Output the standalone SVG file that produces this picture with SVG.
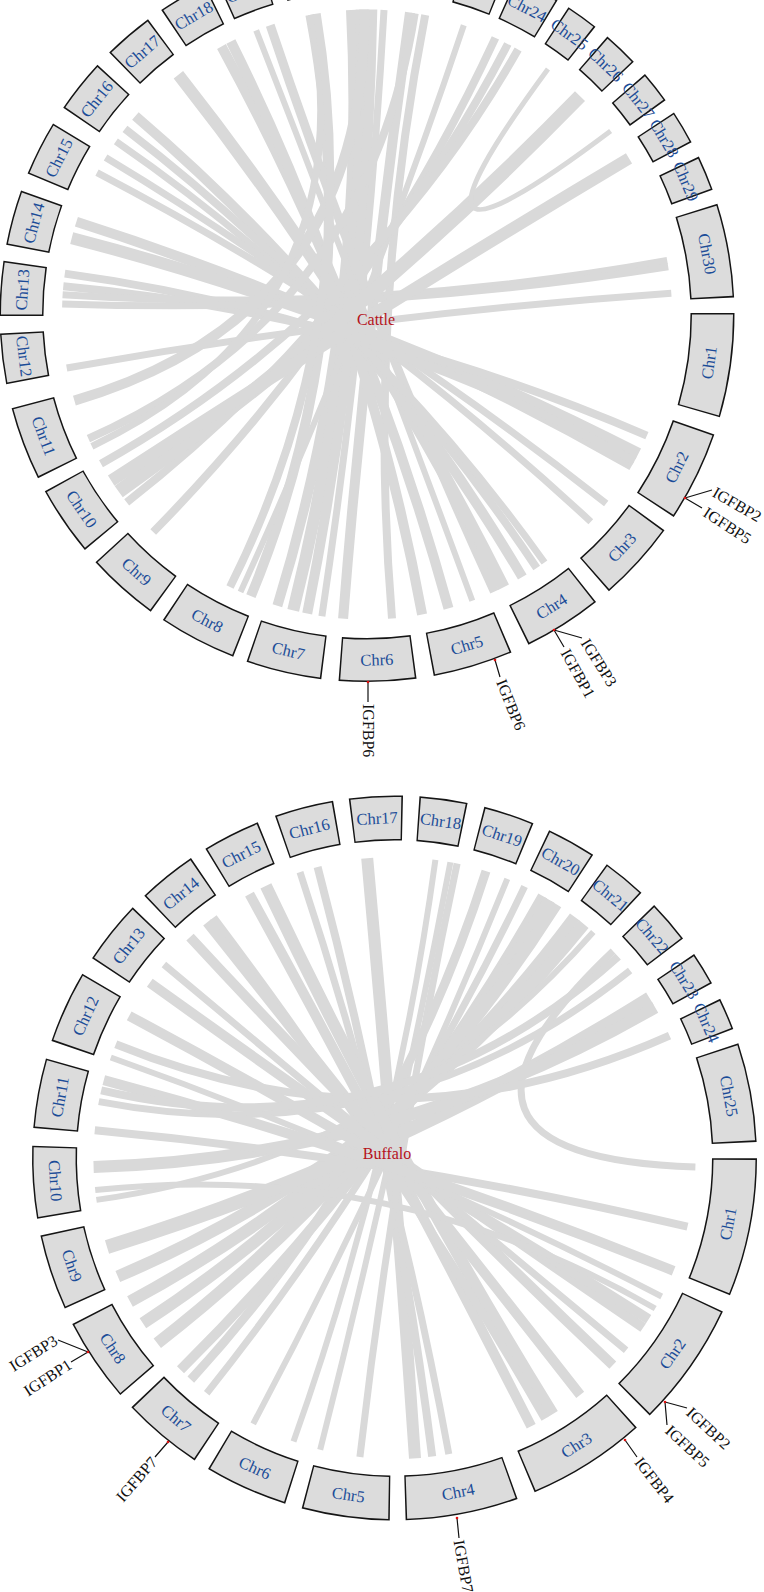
<svg xmlns="http://www.w3.org/2000/svg" width="764" height="1592" viewBox="0 0 764 1592">
<style>
.lk{fill:none;stroke:#d9d9d9;stroke-linecap:butt}
.bo{fill:none;stroke:#151515}
.bf{fill:none;stroke:#dcdcdc}
.cl{font-family:"Liberation Serif",serif;font-size:16.5px;fill:#1b4c98;text-anchor:middle;dominant-baseline:central}
.gl{font-family:"Liberation Serif",serif;font-size:16px;fill:#111;dominant-baseline:central}
.ge{text-anchor:end}
.ttl{font-family:"Liberation Serif",serif;font-size:16px;fill:#b5121b;text-anchor:middle;dominant-baseline:central}
.mk{stroke:#111;stroke-width:1.2;fill:none}
.dt{fill:#e01010}
.T .bo{stroke-width:44}
.T .bf{stroke-width:41}
.B .bo{stroke-width:45}
.B .bf{stroke-width:42}
</style>
<defs>
<path id="rT" d="M345.5,0A345.5,345.5 0 1 1 -345.5,0A345.5,345.5 0 1 1 345.5,0"/>
<path id="rB" d="M340,0A340,340 0 1 1 -340,0A340,340 0 1 1 340,0"/>
</defs>
<rect width="764" height="1592" fill="#fff"/>

<g id="cattle" class="T">
<g id="cattle-links">
<path class="lk" stroke-width="10" d="M310.4,14.9Q367,314.5 250.9,596.2"/>
<path class="lk" stroke-width="10" d="M351.0,9.9Q367,314.5 277.4,605.7"/>
<path class="lk" stroke-width="12" d="M361.7,9.5Q367,314.5 293.2,610.4"/>
<path class="lk" stroke-width="10" d="M372.3,9.5Q367,314.5 307.2,613.6"/>
<path class="lk" stroke-width="7" d="M384.0,10.0Q367,314.5 321.9,616.2"/>
<path class="lk" stroke-width="10" d="M410.0,12.5Q367,314.5 343.1,618.6"/>
<path class="lk" stroke-width="8" d="M425.2,15.1Q367,314.5 392.0,618.5"/>
<path class="lk" stroke-width="6" d="M463.8,25.3Q367,314.5 240.5,592.0"/>
<path class="lk" stroke-width="8" d="M495.4,37.9Q367,314.5 153.2,532.0"/>
<path class="lk" stroke-width="8" d="M507.8,44.0Q367,314.5 126.7,502.3"/>
<path class="lk" stroke-width="8" d="M518.1,49.6Q367,314.5 101.0,463.8"/>
<path class="lk" stroke-width="10" d="M221.5,46.5Q367,314.5 448.5,608.4"/>
<path class="lk" stroke-width="10" d="M230.9,41.5Q367,314.5 422.1,614.5"/>
<path class="lk" stroke-width="6" d="M256.2,30.3Q367,314.5 472.3,600.7"/>
<path class="lk" stroke-width="9" d="M270.2,25.3Q367,314.5 494.4,591.6"/>
<path class="lk" stroke-width="12" d="M178.4,74.8Q367,314.5 503.6,587.2"/>
<path class="lk" stroke-width="10" d="M135.4,116.0Q367,314.5 522.3,577.0"/>
<path class="lk" stroke-width="8" d="M125.0,128.8Q367,314.5 536.7,568.0"/>
<path class="lk" stroke-width="7" d="M115.9,141.3Q367,314.5 544.5,562.5"/>
<path class="lk" stroke-width="7" d="M105.6,157.4Q367,314.5 590.8,521.7"/>
<path class="lk" stroke-width="7" d="M97.0,172.7Q367,314.5 606.2,503.5"/>
<path class="lk" stroke-width="10" d="M76.4,221.8Q367,314.5 631.9,465.6"/>
<path class="lk" stroke-width="12" d="M71.7,238.1Q367,314.5 638.3,453.9"/>
<path class="lk" stroke-width="8" d="M64.8,273.6Q367,314.5 634.5,461.0"/>
<path class="lk" stroke-width="8" d="M63.3,286.3Q367,314.5 646.9,435.6"/>
<path class="lk" stroke-width="7" d="M62.6,294.8Q367,314.5 667.2,260.5"/>
<path class="lk" stroke-width="7" d="M62.2,303.9Q367,314.5 668.2,266.8"/>
<path class="lk" stroke-width="7" d="M66.7,368.0Q367,314.5 671.3,293.2"/>
<path class="lk" stroke-width="14" d="M580.0,96.2Q367,314.5 118.7,491.6"/>
<path class="lk" stroke-width="12" d="M629.0,158.3Q367,314.5 111.2,480.6"/>
<path class="lk" stroke-width="5" d="M548.0,69.0Q367,314.5 610.6,131.0"/>
<path class="lk" stroke-width="10" d="M74.4,400.6Q367,314.5 364.3,9.5"/>
<path class="lk" stroke-width="8" d="M88.4,438.6Q367,314.5 414.7,13.3"/>
<path class="lk" stroke-width="7" d="M91.9,446.3Q367,314.5 311.4,14.6"/>
<path class="lk" stroke-width="8" d="M230.0,587.0Q367,314.5 316.7,13.7"/>
</g>

<g id="cattle-chr1" transform="translate(367 314.5) rotate(0)"><use href="#rT" class="bo" stroke-dasharray="99.5 3000" transform="rotate(-0.25)"/><use href="#rT" class="bf" stroke-dasharray="96.5 3000"/><text class="cl" transform="rotate(8) translate(345.5 0) rotate(-90)">Chr1</text></g>
<g id="cattle-chr2" transform="translate(367 314.5) rotate(19.3)"><use href="#rT" class="bo" stroke-dasharray="86.8 3000" transform="rotate(-0.25)"/><use href="#rT" class="bf" stroke-dasharray="83.8 3000"/><text class="cl" transform="rotate(6.95) translate(345.5 0) rotate(-90)">Chr2</text></g>
<g id="cattle-chr3" transform="translate(367 314.5) rotate(36.2)"><use href="#rT" class="bo" stroke-dasharray="77.8 3000" transform="rotate(-0.25)"/><use href="#rT" class="bf" stroke-dasharray="74.8 3000"/><text class="cl" transform="rotate(6.2) translate(345.5 0) rotate(-90)">Chr3</text></g>
<g id="cattle-chr4" transform="translate(367 314.5) rotate(51.7)"><use href="#rT" class="bo" stroke-dasharray="75.4 3000" transform="rotate(-0.25)"/><use href="#rT" class="bf" stroke-dasharray="72.4 3000"/><text class="cl" transform="rotate(6) translate(345.5 0) rotate(-90)">Chr4</text></g>
<g id="cattle-chr5" transform="translate(367 314.5) rotate(67.1)"><use href="#rT" class="bo" stroke-dasharray="76.6 3000" transform="rotate(-0.25)"/><use href="#rT" class="bf" stroke-dasharray="73.6 3000"/><text class="cl" transform="rotate(6.1) translate(345.5 0) rotate(-90)">Chr5</text></g>
<g id="cattle-chr6" transform="translate(367 314.5) rotate(82.5)"><use href="#rT" class="bo" stroke-dasharray="73.6 3000" transform="rotate(-0.25)"/><use href="#rT" class="bf" stroke-dasharray="70.6 3000"/><text class="cl" transform="rotate(5.85) translate(345.5 0) rotate(-90)">Chr6</text></g>
<g id="cattle-chr7" transform="translate(367 314.5) rotate(97.4)"><use href="#rT" class="bo" stroke-dasharray="72.3 3000" transform="rotate(-0.25)"/><use href="#rT" class="bf" stroke-dasharray="69.3 3000"/><text class="cl" transform="rotate(5.75) translate(345.5 0) rotate(-90)">Chr7</text></g>
<g id="cattle-chr8" transform="translate(367 314.5) rotate(111.6)"><use href="#rT" class="bo" stroke-dasharray="74.8 3000" transform="rotate(-0.25)"/><use href="#rT" class="bf" stroke-dasharray="71.8 3000"/><text class="cl" transform="rotate(5.95) translate(345.5 0) rotate(-90)">Chr8</text></g>
<g id="cattle-chr9" transform="translate(367 314.5) rotate(126.3)"><use href="#rT" class="bo" stroke-dasharray="69.9 3000" transform="rotate(-0.25)"/><use href="#rT" class="bf" stroke-dasharray="66.9 3000"/><text class="cl" transform="rotate(5.55) translate(345.5 0) rotate(-90)">Chr9</text></g>
<g id="cattle-chr10" transform="translate(367 314.5) rotate(140.4)"><use href="#rT" class="bo" stroke-dasharray="66.9 3000" transform="rotate(-0.25)"/><use href="#rT" class="bf" stroke-dasharray="63.9 3000"/><text class="cl" transform="rotate(5.3) translate(345.5 0) rotate(-90)">Chr10</text></g>
<g id="cattle-chr11" transform="translate(367 314.5) rotate(153.8)"><use href="#rT" class="bo" stroke-dasharray="70.5 3000" transform="rotate(-0.25)"/><use href="#rT" class="bf" stroke-dasharray="67.5 3000"/><text class="cl" transform="rotate(5.6) translate(345.5 0) rotate(-90)">Chr11</text></g>
<g id="cattle-chr12" transform="translate(367 314.5) rotate(169.3)"><use href="#rT" class="bo" stroke-dasharray="48.2 3000" transform="rotate(-0.25)"/><use href="#rT" class="bf" stroke-dasharray="45.2 3000"/><text class="cl" transform="rotate(3.75) translate(345.5 0) rotate(-90)">Chr12</text></g>
<g id="cattle-chr13" transform="translate(367 314.5) rotate(180)"><use href="#rT" class="bo" stroke-dasharray="52.4 3000" transform="rotate(-0.25)"/><use href="#rT" class="bf" stroke-dasharray="49.4 3000"/><text class="cl" transform="rotate(4.1) translate(345.5 0) rotate(90)">Chr13</text></g>
<g id="cattle-chr14" transform="translate(367 314.5) rotate(191.2)"><use href="#rT" class="bo" stroke-dasharray="53 3000" transform="rotate(-0.25)"/><use href="#rT" class="bf" stroke-dasharray="50 3000"/><text class="cl" transform="rotate(4.15) translate(345.5 0) rotate(90)">Chr14</text></g>
<g id="cattle-chr15" transform="translate(367 314.5) rotate(202.8)"><use href="#rT" class="bo" stroke-dasharray="53 3000" transform="rotate(-0.25)"/><use href="#rT" class="bf" stroke-dasharray="50 3000"/><text class="cl" transform="rotate(4.15) translate(345.5 0) rotate(90)">Chr15</text></g>
<g id="cattle-chr16" transform="translate(367 314.5) rotate(214.5)"><use href="#rT" class="bo" stroke-dasharray="51.8 3000" transform="rotate(-0.25)"/><use href="#rT" class="bf" stroke-dasharray="48.8 3000"/><text class="cl" transform="rotate(4.05) translate(345.5 0) rotate(90)">Chr16</text></g>
<g id="cattle-chr17" transform="translate(367 314.5) rotate(225.7)"><use href="#rT" class="bo" stroke-dasharray="48.2 3000" transform="rotate(-0.25)"/><use href="#rT" class="bf" stroke-dasharray="45.2 3000"/><text class="cl" transform="rotate(3.75) translate(345.5 0) rotate(90)">Chr17</text></g>
<g id="cattle-chr18" transform="translate(367 314.5) rotate(236.2)"><use href="#rT" class="bo" stroke-dasharray="47.6 3000" transform="rotate(-0.25)"/><use href="#rT" class="bf" stroke-dasharray="44.6 3000"/><text class="cl" transform="rotate(3.7) translate(345.5 0) rotate(90)">Chr18</text></g>
<g id="cattle-chr19" transform="translate(367 314.5) rotate(246)"><use href="#rT" class="bo" stroke-dasharray="45.2 3000" transform="rotate(-0.25)"/><use href="#rT" class="bf" stroke-dasharray="42.2 3000"/><text class="cl" transform="rotate(3.5) translate(345.5 0) rotate(90)">Chr19</text></g>
<g id="cattle-chr20" transform="translate(367 314.5) rotate(256)"><use href="#rT" class="bo" stroke-dasharray="48.2 3000" transform="rotate(-0.25)"/><use href="#rT" class="bf" stroke-dasharray="45.2 3000"/><text class="cl" transform="rotate(3.75) translate(345.5 0) rotate(90)">Chr20</text></g>
<g id="cattle-chr21" transform="translate(367 314.5) rotate(266)"><use href="#rT" class="bo" stroke-dasharray="45.2 3000" transform="rotate(-0.25)"/><use href="#rT" class="bf" stroke-dasharray="42.2 3000"/><text class="cl" transform="rotate(3.5) translate(345.5 0) rotate(90)">Chr21</text></g>
<g id="cattle-chr22" transform="translate(367 314.5) rotate(276)"><use href="#rT" class="bo" stroke-dasharray="45.2 3000" transform="rotate(-0.25)"/><use href="#rT" class="bf" stroke-dasharray="42.2 3000"/><text class="cl" transform="rotate(3.5) translate(345.5 0) rotate(90)">Chr22</text></g>
<g id="cattle-chr23" transform="translate(367 314.5) rotate(285.5)"><use href="#rT" class="bo" stroke-dasharray="42.2 3000" transform="rotate(-0.25)"/><use href="#rT" class="bf" stroke-dasharray="39.2 3000"/><text class="cl" transform="rotate(3.25) translate(345.5 0) rotate(90)">Chr23</text></g>
<g id="cattle-chr24" transform="translate(367 314.5) rotate(294.2)"><use href="#rT" class="bo" stroke-dasharray="44 3000" transform="rotate(-0.25)"/><use href="#rT" class="bf" stroke-dasharray="41 3000"/><text class="cl" transform="rotate(3.4) translate(345.5 0) rotate(90)">Chr24</text></g>
<g id="cattle-chr25" transform="translate(367 314.5) rotate(303.5)"><use href="#rT" class="bo" stroke-dasharray="31.3 3000" transform="rotate(-0.25)"/><use href="#rT" class="bf" stroke-dasharray="28.3 3000"/><text class="cl" transform="rotate(2.35) translate(345.5 0) rotate(90)">Chr25</text></g>
<g id="cattle-chr26" transform="translate(367 314.5) rotate(311.1)"><use href="#rT" class="bo" stroke-dasharray="34.4 3000" transform="rotate(-0.25)"/><use href="#rT" class="bf" stroke-dasharray="31.4 3000"/><text class="cl" transform="rotate(2.6) translate(345.5 0) rotate(90)">Chr26</text></g>
<g id="cattle-chr27" transform="translate(367 314.5) rotate(319.4)"><use href="#rT" class="bo" stroke-dasharray="31.3 3000" transform="rotate(-0.25)"/><use href="#rT" class="bf" stroke-dasharray="28.3 3000"/><text class="cl" transform="rotate(2.35) translate(345.5 0) rotate(90)">Chr27</text></g>
<g id="cattle-chr28" transform="translate(367 314.5) rotate(326.9)"><use href="#rT" class="bo" stroke-dasharray="32.5 3000" transform="rotate(-0.25)"/><use href="#rT" class="bf" stroke-dasharray="29.5 3000"/><text class="cl" transform="rotate(2.45) translate(345.5 0) rotate(90)">Chr28</text></g>
<g id="cattle-chr29" transform="translate(367 314.5) rotate(334.8)"><use href="#rT" class="bo" stroke-dasharray="33.8 3000" transform="rotate(-0.25)"/><use href="#rT" class="bf" stroke-dasharray="30.8 3000"/><text class="cl" transform="rotate(2.55) translate(345.5 0) rotate(90)">Chr29</text></g>
<g id="cattle-chr30" transform="translate(367 314.5) rotate(342.7)"><use href="#rT" class="bo" stroke-dasharray="89.8 3000" transform="rotate(-0.25)"/><use href="#rT" class="bf" stroke-dasharray="86.8 3000"/><text class="cl" transform="rotate(7.2) translate(345.5 0) rotate(90)">Chr30</text></g>

<text id="cattle-title" class="ttl" x="376" y="319">Cattle</text>

<g id="cattle-genes">
<path class="mk" d="M685,498L712,490M685,498L702,508M554,630L582,638M554,630L564,647M495,660L500,677M368,682L368,702"/>
<circle class="dt" cx="685" cy="498" r="1.3"/><circle class="dt" cx="554" cy="630" r="1.3"/><circle class="dt" cx="495" cy="660" r="1.3"/><circle class="dt" cx="368" cy="682" r="1.3"/>
<text class="gl" transform="translate(714 491) rotate(30)">IGFBP2</text>
<text class="gl" transform="translate(705 511) rotate(33)">IGFBP5</text>
<text class="gl" transform="translate(585 640) rotate(58)">IGFBP3</text>
<text class="gl" transform="translate(565 650) rotate(61)">IGFBP1</text>
<text class="gl" transform="translate(501 680) rotate(68)">IGFBP6</text>
<text class="gl" transform="translate(368 704) rotate(90)">IGFBP6</text>
</g>
</g>

<g id="buffalo" class="B">
<g id="buffalo-links">
<path class="lk" stroke-width="12" d="M367.2,858.2Q394.5,1158 415.0,1458.3"/>
<path class="lk" stroke-width="8" d="M317.6,867.0Q394.5,1158 432.2,1456.6"/>
<path class="lk" stroke-width="7" d="M300.0,872.2Q394.5,1158 448.8,1454.1"/>
<path class="lk" stroke-width="6" d="M435.4,859.8Q394.5,1158 293.5,1441.6"/>
<path class="lk" stroke-width="6" d="M450.4,862.2Q394.5,1158 320.2,1449.7"/>
<path class="lk" stroke-width="7" d="M457.1,863.6Q394.5,1158 359.9,1457.0"/>
<path class="lk" stroke-width="9" d="M486.0,871.2Q394.5,1158 190.8,1379.6"/>
<path class="lk" stroke-width="6" d="M507.3,878.9Q394.5,1158 253.2,1423.8"/>
<path class="lk" stroke-width="7" d="M524.6,886.6Q394.5,1158 206.7,1393.2"/>
<path class="lk" stroke-width="10" d="M542.7,896.0Q394.5,1158 180.5,1369.7"/>
<path class="lk" stroke-width="12" d="M549.5,900.0Q394.5,1158 157.3,1343.3"/>
<path class="lk" stroke-width="12" d="M556.2,904.1Q394.5,1158 142.9,1323.3"/>
<path class="lk" stroke-width="12" d="M574.8,917.0Q394.5,1158 130.0,1301.6"/>
<path class="lk" stroke-width="12" d="M583.9,924.1Q394.5,1158 117.8,1276.6"/>
<path class="lk" stroke-width="6" d="M593.3,932.0Q394.5,1158 96.4,1199.9"/>
<path class="lk" stroke-width="7" d="M613.1,951.1Q394.5,1158 695.4,1166.9"/>
<path class="lk" stroke-width="7" d="M630.1,970.6Q394.5,1158 98.8,1101.6"/>
<path class="lk" stroke-width="14" d="M649.8,998.5Q394.5,1158 107.0,1247.0"/>
<path class="lk" stroke-width="12" d="M655.2,1007.5Q394.5,1158 93.6,1166.9"/>
<path class="lk" stroke-width="8" d="M669.5,1035.6Q394.5,1158 115.8,1044.3"/>
<path class="lk" stroke-width="8" d="M687.5,1226.7Q394.5,1158 94.8,1130.2"/>
<path class="lk" stroke-width="12" d="M265.9,885.9Q394.5,1158 552.7,1414.1"/>
<path class="lk" stroke-width="10" d="M249.5,894.2Q394.5,1158 531.2,1426.2"/>
<path class="lk" stroke-width="8" d="M213.4,917.6Q394.5,1158 545.0,1418.7"/>
<path class="lk" stroke-width="10" d="M207.1,922.4Q394.5,1158 580.2,1394.9"/>
<path class="lk" stroke-width="10" d="M190.0,937.1Q394.5,1158 612.8,1365.2"/>
<path class="lk" stroke-width="7" d="M163.9,964.5Q394.5,1158 626.1,1350.3"/>
<path class="lk" stroke-width="10" d="M149.8,982.8Q394.5,1158 643.2,1327.6"/>
<path class="lk" stroke-width="10" d="M129.2,1015.8Q394.5,1158 648.6,1319.3"/>
<path class="lk" stroke-width="6" d="M110.8,1057.5Q394.5,1158 661.7,1296.5"/>
<path class="lk" stroke-width="10" d="M103.8,1080.1Q394.5,1158 673.6,1270.8"/>
<path class="lk" stroke-width="8" d="M101.2,1090.3Q394.5,1158 618.2,956.6"/>
<path class="lk" stroke-width="6" d="M95.2,1190.0Q394.5,1158 655.2,1308.5"/>
</g>

<g id="buffalo-chr1" transform="translate(394.5 1158) rotate(0.3)"><use href="#rB" class="bo" stroke-dasharray="131.8 3000" transform="rotate(-0.25)"/><use href="#rB" class="bf" stroke-dasharray="128.8 3000"/><text class="cl" transform="rotate(10.85) translate(340 0) rotate(-90)">Chr1</text></g>
<g id="buffalo-chr2" transform="translate(394.5 1158) rotate(25.3)"><use href="#rB" class="bo" stroke-dasharray="119.9 3000" transform="rotate(-0.25)"/><use href="#rB" class="bf" stroke-dasharray="116.9 3000"/><text class="cl" transform="rotate(9.85) translate(340 0) rotate(-90)">Chr2</text></g>
<g id="buffalo-chr3" transform="translate(394.5 1158) rotate(48.3)"><use href="#rB" class="bo" stroke-dasharray="114 3000" transform="rotate(-0.25)"/><use href="#rB" class="bf" stroke-dasharray="111 3000"/><text class="cl" transform="rotate(9.35) translate(340 0) rotate(-90)">Chr3</text></g>
<g id="buffalo-chr4" transform="translate(394.5 1158) rotate(70.4)"><use href="#rB" class="bo" stroke-dasharray="107.4 3000" transform="rotate(-0.25)"/><use href="#rB" class="bf" stroke-dasharray="104.4 3000"/><text class="cl" transform="rotate(8.8) translate(340 0) rotate(-90)">Chr4</text></g>
<g id="buffalo-chr5" transform="translate(394.5 1158) rotate(91)"><use href="#rB" class="bo" stroke-dasharray="83.7 3000" transform="rotate(-0.25)"/><use href="#rB" class="bf" stroke-dasharray="80.7 3000"/><text class="cl" transform="rotate(6.8) translate(340 0) rotate(-90)">Chr5</text></g>
<g id="buffalo-chr6" transform="translate(394.5 1158) rotate(107.8)"><use href="#rB" class="bo" stroke-dasharray="79.6 3000" transform="rotate(-0.25)"/><use href="#rB" class="bf" stroke-dasharray="76.6 3000"/><text class="cl" transform="rotate(6.45) translate(340 0) rotate(-90)">Chr6</text></g>
<g id="buffalo-chr7" transform="translate(394.5 1158) rotate(123.7)"><use href="#rB" class="bo" stroke-dasharray="77.8 3000" transform="rotate(-0.25)"/><use href="#rB" class="bf" stroke-dasharray="74.8 3000"/><text class="cl" transform="rotate(6.3) translate(340 0) rotate(-90)">Chr7</text></g>
<g id="buffalo-chr8" transform="translate(394.5 1158) rotate(139.4)"><use href="#rB" class="bo" stroke-dasharray="80.7 3000" transform="rotate(-0.25)"/><use href="#rB" class="bf" stroke-dasharray="77.7 3000"/><text class="cl" transform="rotate(6.55) translate(340 0) rotate(-90)">Chr8</text></g>
<g id="buffalo-chr9" transform="translate(394.5 1158) rotate(155.7)"><use href="#rB" class="bo" stroke-dasharray="72.4 3000" transform="rotate(-0.25)"/><use href="#rB" class="bf" stroke-dasharray="69.4 3000"/><text class="cl" transform="rotate(5.85) translate(340 0) rotate(-90)">Chr9</text></g>
<g id="buffalo-chr10" transform="translate(394.5 1158) rotate(170.6)"><use href="#rB" class="bo" stroke-dasharray="68.9 3000" transform="rotate(-0.25)"/><use href="#rB" class="bf" stroke-dasharray="65.9 3000"/><text class="cl" transform="rotate(5.55) translate(340 0) rotate(-90)">Chr10</text></g>
<g id="buffalo-chr11" transform="translate(394.5 1158) rotate(185)"><use href="#rB" class="bo" stroke-dasharray="66.5 3000" transform="rotate(-0.25)"/><use href="#rB" class="bf" stroke-dasharray="63.5 3000"/><text class="cl" transform="rotate(5.35) translate(340 0) rotate(90)">Chr11</text></g>
<g id="buffalo-chr12" transform="translate(394.5 1158) rotate(199.1)"><use href="#rB" class="bo" stroke-dasharray="69.5 3000" transform="rotate(-0.25)"/><use href="#rB" class="bf" stroke-dasharray="66.5 3000"/><text class="cl" transform="rotate(5.6) translate(340 0) rotate(90)">Chr12</text></g>
<g id="buffalo-chr13" transform="translate(394.5 1158) rotate(213.7)"><use href="#rB" class="bo" stroke-dasharray="61.2 3000" transform="rotate(-0.25)"/><use href="#rB" class="bf" stroke-dasharray="58.2 3000"/><text class="cl" transform="rotate(4.9) translate(340 0) rotate(90)">Chr13</text></g>
<g id="buffalo-chr14" transform="translate(394.5 1158) rotate(226.6)"><use href="#rB" class="bo" stroke-dasharray="56.4 3000" transform="rotate(-0.25)"/><use href="#rB" class="bf" stroke-dasharray="53.4 3000"/><text class="cl" transform="rotate(4.5) translate(340 0) rotate(90)">Chr14</text></g>
<g id="buffalo-chr15" transform="translate(394.5 1158) rotate(238.8)"><use href="#rB" class="bo" stroke-dasharray="55.2 3000" transform="rotate(-0.25)"/><use href="#rB" class="bf" stroke-dasharray="52.2 3000"/><text class="cl" transform="rotate(4.4) translate(340 0) rotate(90)">Chr15</text></g>
<g id="buffalo-chr16" transform="translate(394.5 1158) rotate(251)"><use href="#rB" class="bo" stroke-dasharray="56.4 3000" transform="rotate(-0.25)"/><use href="#rB" class="bf" stroke-dasharray="53.4 3000"/><text class="cl" transform="rotate(4.5) translate(340 0) rotate(90)">Chr16</text></g>
<g id="buffalo-chr17" transform="translate(394.5 1158) rotate(263)"><use href="#rB" class="bo" stroke-dasharray="51.1 3000" transform="rotate(-0.25)"/><use href="#rB" class="bf" stroke-dasharray="48.1 3000"/><text class="cl" transform="rotate(4.05) translate(340 0) rotate(90)">Chr17</text></g>
<g id="buffalo-chr18" transform="translate(394.5 1158) rotate(274.2)"><use href="#rB" class="bo" stroke-dasharray="45.7 3000" transform="rotate(-0.25)"/><use href="#rB" class="bf" stroke-dasharray="42.7 3000"/><text class="cl" transform="rotate(3.6) translate(340 0) rotate(90)">Chr18</text></g>
<g id="buffalo-chr19" transform="translate(394.5 1158) rotate(284.6)"><use href="#rB" class="bo" stroke-dasharray="48.7 3000" transform="rotate(-0.25)"/><use href="#rB" class="bf" stroke-dasharray="45.7 3000"/><text class="cl" transform="rotate(3.85) translate(340 0) rotate(90)">Chr19</text></g>
<g id="buffalo-chr20" transform="translate(394.5 1158) rotate(295.5)"><use href="#rB" class="bo" stroke-dasharray="47.5 3000" transform="rotate(-0.25)"/><use href="#rB" class="bf" stroke-dasharray="44.5 3000"/><text class="cl" transform="rotate(3.75) translate(340 0) rotate(90)">Chr20</text></g>
<g id="buffalo-chr21" transform="translate(394.5 1158) rotate(306.1)"><use href="#rB" class="bo" stroke-dasharray="42.2 3000" transform="rotate(-0.25)"/><use href="#rB" class="bf" stroke-dasharray="39.2 3000"/><text class="cl" transform="rotate(3.3) translate(340 0) rotate(90)">Chr21</text></g>
<g id="buffalo-chr22" transform="translate(394.5 1158) rotate(316)"><use href="#rB" class="bo" stroke-dasharray="41.6 3000" transform="rotate(-0.25)"/><use href="#rB" class="bf" stroke-dasharray="38.6 3000"/><text class="cl" transform="rotate(3.25) translate(340 0) rotate(90)">Chr22</text></g>
<g id="buffalo-chr23" transform="translate(394.5 1158) rotate(326)"><use href="#rB" class="bo" stroke-dasharray="32.1 3000" transform="rotate(-0.25)"/><use href="#rB" class="bf" stroke-dasharray="29.1 3000"/><text class="cl" transform="rotate(2.45) translate(340 0) rotate(90)">Chr23</text></g>
<g id="buffalo-chr24" transform="translate(394.5 1158) rotate(334.2)"><use href="#rB" class="bo" stroke-dasharray="30.9 3000" transform="rotate(-0.25)"/><use href="#rB" class="bf" stroke-dasharray="27.9 3000"/><text class="cl" transform="rotate(2.35) translate(340 0) rotate(90)">Chr24</text></g>
<g id="buffalo-chr25" transform="translate(394.5 1158) rotate(341.8)"><use href="#rB" class="bo" stroke-dasharray="94.4 3000" transform="rotate(-0.25)"/><use href="#rB" class="bf" stroke-dasharray="91.4 3000"/><text class="cl" transform="rotate(7.7) translate(340 0) rotate(90)">Chr25</text></g>

<text id="buffalo-title" class="ttl" x="387" y="1153">Buffalo</text>

<g id="buffalo-genes">
<path class="mk" d="M88,1352L58,1340M88,1352L71,1362M168,1442L155,1457M457,1518L459,1538M625,1440L637,1457M665,1402L687,1408M665,1402L667,1425"/>
<circle class="dt" cx="88" cy="1352" r="1.3"/><circle class="dt" cx="168" cy="1442" r="1.3"/><circle class="dt" cx="457" cy="1518" r="1.3"/><circle class="dt" cx="625" cy="1440" r="1.3"/><circle class="dt" cx="665" cy="1402" r="1.3"/>
<text class="gl ge" transform="translate(56 1339) rotate(-32)">IGFBP3</text>
<text class="gl ge" transform="translate(70 1363) rotate(-33)">IGFBP1</text>
<text class="gl ge" transform="translate(154 1459) rotate(-49)">IGFBP7</text>
<text class="gl" transform="translate(459 1540) rotate(80)">IGFBP7</text>
<text class="gl" transform="translate(638 1459) rotate(52)">IGFBP4</text>
<text class="gl" transform="translate(689 1410) rotate(43)">IGFBP2</text>
<text class="gl" transform="translate(668 1428) rotate(43)">IGFBP5</text>
</g>
</g>
</svg>
